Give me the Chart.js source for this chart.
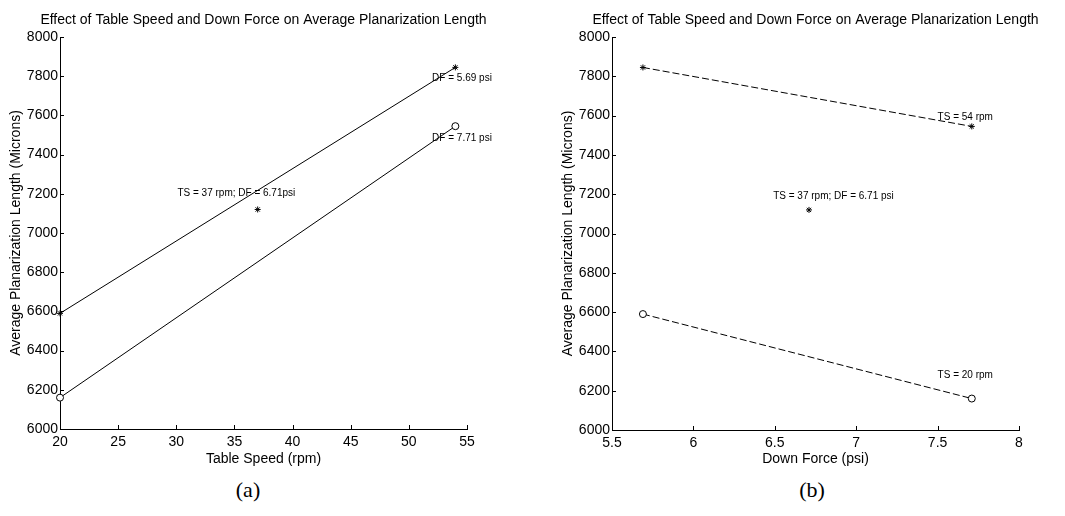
<!DOCTYPE html>
<html>
<head>
<meta charset="utf-8">
<script src="https://cdn.jsdelivr.net/npm/chart.js@4.4.1/dist/chart.umd.min.js"></script>
<style>
  body { margin: 0; background: #fff; width: 1065px; height: 516px; position: relative; overflow: hidden; }
  canvas { position: absolute; top: 0; }
  #chartA { left: 0; }
  #chartB { left: 552px; }
  .cap { position: absolute; top: 477px; font: 22px "Liberation Serif", "Times New Roman", serif; color: #000; transform: translateX(-50%); }
</style>
</head>
<body>
<canvas id="chartA" width="527" height="470"></canvas>
<canvas id="chartB" width="527" height="470"></canvas>
<div class="cap" style="left:248px">(a)</div>
<div class="cap" style="left:812px">(b)</div>
<script>
// measured planarization length (microns)
const tableSpeed = [20, 54];          // rpm
const downForce = [5.69, 7.71];       // psi
const lenDF569 = [6590, 7845];        // DF = 5.69 psi, over table speed
const lenDF771 = [6160, 7545];        // DF = 7.71 psi, over table speed
const lenTS54 = [7845, 7545];         // TS = 54 rpm, over down force
const lenTS20 = [6590, 6160];         // TS = 20 rpm, over down force
const centerTS = 37, centerDF = 6.71, centerLen = 7120;

const speedTicks = [20, 25, 30, 35, 40, 45, 50, 55];
const forceTicks = [5.5, 6, 6.5, 7, 7.5, 8];
const lenTicks = [6000, 6200, 6400, 6600, 6800, 7000, 7200, 7400, 7600, 7800, 8000];

const titleText = 'Effect of Table Speed and Down Force on Average Planarization Length';
const yTitle = 'Average Planarization Length (Microns)';
const FONT = '"Liberation Sans", Arial, sans-serif';

// matlab-style ticks pointing into the plot
const inwardTicks = {
  id: 'inwardTicks',
  afterDatasetsDraw(chart) {
    const { ctx, chartArea, scales: { x, y } } = chart;
    ctx.save();
    ctx.strokeStyle = '#000';
    ctx.lineWidth = 1;
    ctx.beginPath();
    x.ticks.forEach((t, i) => {
      const px = Math.round(x.getPixelForTick(i)) + 0.5;
      ctx.moveTo(px, chartArea.bottom);
      ctx.lineTo(px, chartArea.bottom - 4);
    });
    y.ticks.forEach((t, i) => {
      const py = Math.round(y.getPixelForTick(i)) + 0.5;
      ctx.moveTo(chartArea.left, py);
      ctx.lineTo(chartArea.left + 4, py);
    });
    ctx.stroke();
    ctx.restore();
  }
};

// text notes placed in data units
const notes = {
  id: 'notes',
  afterDatasetsDraw(chart, args, opts) {
    const { ctx, scales: { x, y } } = chart;
    ctx.save();
    ctx.font = '10px ' + FONT;
    ctx.fillStyle = '#000';
    ctx.textBaseline = 'middle';
    (opts.items || []).forEach(n => {
      ctx.fillText(n.text, x.getPixelForValue(n.x), y.getPixelForValue(n.y));
    });
    ctx.restore();
  }
};

function pts(xs, ys) {
  return xs.map((v, i) => ({ x: v, y: ys[i] }));
}

function lineSet(xs, ys, style, dash) {
  return {
    data: pts(xs, ys),
    showLine: true,
    borderColor: '#000',
    borderWidth: 1,
    borderDash: dash,
    pointStyle: style,
    pointRadius: style === 'circle' ? 3.5 : 3,
    pointBorderColor: '#000',
    pointBorderWidth: 1,
    pointBackgroundColor: '#fff',
    clip: false
  };
}

const plain = v => String(v);

function makeOptions(xTitle, xTickVals, xHeight, noteItems) {
  return {
    responsive: false,
    animation: false,
    layout: { padding: 0 },
    plugins: {
      legend: { display: false },
      tooltip: { enabled: false },
      title: {
        display: true,
        text: titleText,
        color: '#000',
        font: { family: FONT, size: 14, weight: 'normal' },
        padding: { top: 11.6, bottom: 8.6 }
      },
      notes: { items: noteItems }
    },
    scales: {
      x: {
        type: 'linear',
        min: xTickVals[0],
        max: xTickVals[xTickVals.length - 1],
        afterBuildTicks: s => { s.ticks = xTickVals.map(v => ({ value: v })); },
        afterFit: s => { s.height = xHeight; },
        grid: { display: false, drawTicks: false },
        border: { display: true, color: '#000', width: 1 },
        ticks: { color: '#000', padding: 5, maxRotation: 0, callback: plain, font: { family: FONT, size: 14 } },
        title: { display: true, text: xTitle, color: '#000', font: { family: FONT, size: 14 }, padding: { top: 0, bottom: 2 } }
      },
      y: {
        type: 'linear',
        min: lenTicks[0],
        max: lenTicks[lenTicks.length - 1],
        afterBuildTicks: s => { s.ticks = lenTicks.map(v => ({ value: v })); },
        afterFit: s => { s.width = 60; },
        grid: { display: false, drawTicks: false },
        border: { display: true, color: '#000', width: 1 },
        ticks: { color: '#000', padding: 2, callback: plain, font: { family: FONT, size: 14 } },
        title: { display: true, text: yTitle, color: '#000', font: { family: FONT, size: 14 }, padding: { top: 8, bottom: 0 } }
      },
      // empty right-hand axis, keeps the plot box and title centred
      yRight: {
        type: 'linear',
        position: 'right',
        afterFit: s => { s.width = 60; },
        grid: { display: false, drawTicks: false },
        border: { display: false },
        ticks: { display: false }
      }
    }
  };
}

// (a) length against table speed, one line per down force
new Chart(document.getElementById('chartA'), {
  type: 'scatter',
  data: {
    datasets: [
      lineSet(tableSpeed, lenDF569, 'star'),
      lineSet(tableSpeed, lenDF771, 'circle'),
      lineSet([centerTS], [centerLen], 'star')
    ]
  },
  options: makeOptions('Table Speed (rpm)', speedTicks, 41, [
    { text: 'DF = 5.69 psi', x: 52.0, y: 7791 },
    { text: 'DF = 7.71 psi', x: 52.0, y: 7485 },
    { text: 'TS = 37 rpm; DF = 6.71psi', x: 30.1, y: 7204 }
  ]),
  plugins: [inwardTicks, notes]
});

// (b) length against down force, one line per table speed
new Chart(document.getElementById('chartB'), {
  type: 'scatter',
  data: {
    datasets: [
      lineSet(downForce, lenTS54, 'star', [7, 3]),
      lineSet(downForce, lenTS20, 'circle', [7, 3]),
      lineSet([centerDF], [centerLen], 'star')
    ]
  },
  options: makeOptions('Down Force (psi)', forceTicks, 40, [
    { text: 'TS = 54 rpm', x: 7.5, y: 7590 },
    { text: 'TS = 37 rpm; DF = 6.71 psi', x: 6.49, y: 7189 },
    { text: 'TS = 20 rpm', x: 7.5, y: 6281 }
  ]),
  plugins: [inwardTicks, notes]
});
</script>
</body>
</html>
